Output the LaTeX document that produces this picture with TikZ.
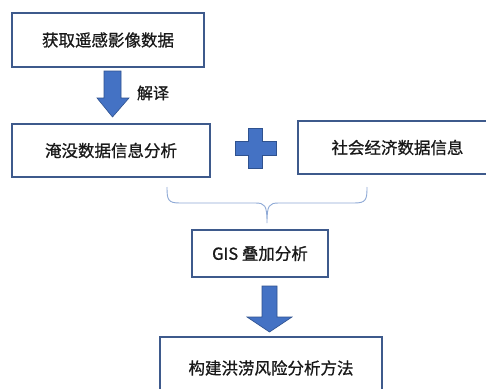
\documentclass[tikz,border=0pt]{standalone}
\usepackage{fontspec}
\newfontfamily\cjk{Noto Sans CJK SC}[FakeBold=0.8]
\definecolor{boxline}{HTML}{3E5A8C}
\definecolor{arrowfill}{HTML}{4472C4}
\definecolor{arrowline}{HTML}{2F528F}
\definecolor{bracecol}{HTML}{8EA9D6}
\begin{document}
\begin{tikzpicture}[x=1pt,y=-1pt,
  stepbox/.style={draw=boxline,line width=1.6pt,fill=white,inner sep=0pt,
    font=\cjk\fontsize{16.5}{18}\selectfont,text=black!90},
  blockarrow/.style={fill=arrowfill,draw=arrowline,line width=0.6pt},
  lbl/.style={font=\cjk\fontsize{16}{18}\selectfont,text=black!90}]
\useasboundingbox (0,0) rectangle (486,388);
\clip (0,0) rectangle (486,388);
\fill[white] (0,0) rectangle (486,388);
\node[stepbox,minimum width=192,minimum height=54] (b1) at (108,40) {获取遥感影像数据};
\node[stepbox,minimum width=198,minimum height=53] (b2) at (111,150.5) {淹没数据信息分析};
\node[stepbox,minimum width=199,minimum height=53] (b3) at (397.5,147.5) {社会经济数据信息};
\node[stepbox,minimum width=136,minimum height=47] (b4) at (260,253.5) {GIS 叠加分析};
\node[stepbox,minimum width=222,minimum height=62] (b5) at (271,368) {构建洪涝风险分析方法};
% arrow 1
\fill[blockarrow] (104,71) -- (121,71) -- (121,98) -- (129,98) -- (112.5,117) -- (97,98) -- (104,98) -- cycle;
\node[lbl] (t1) at (153,93) {解译};
% plus
\fill[blockarrow] (248,128) -- (262,128) -- (262,141.5) -- (276,141.5) -- (276,155) -- (262,155) -- (262,168) -- (248,168) -- (248,155) -- (235,155) -- (235,141.5) -- (248,141.5) -- cycle;
% brace
\coordinate (bl) at (167,187);
\coordinate (br) at (367,187);
\coordinate (bt) at (267,223);
\draw[bracecol,line width=0.9pt] (bl) .. controls (167,200) and (168,203) .. (180,203)
  -- (255,203) .. controls (265,203) and (267,205) .. (bt)
  (bt) .. controls (267,205) and (269,203) .. (279,203)
  -- (354,203) .. controls (366,203) and (367,200) .. (br);
% arrow 2
\fill[blockarrow] (262,286) -- (277,286) -- (277,317) -- (292,317) -- (269.5,332) -- (247,317) -- (262,317) -- cycle;
\end{tikzpicture}
\end{document}
